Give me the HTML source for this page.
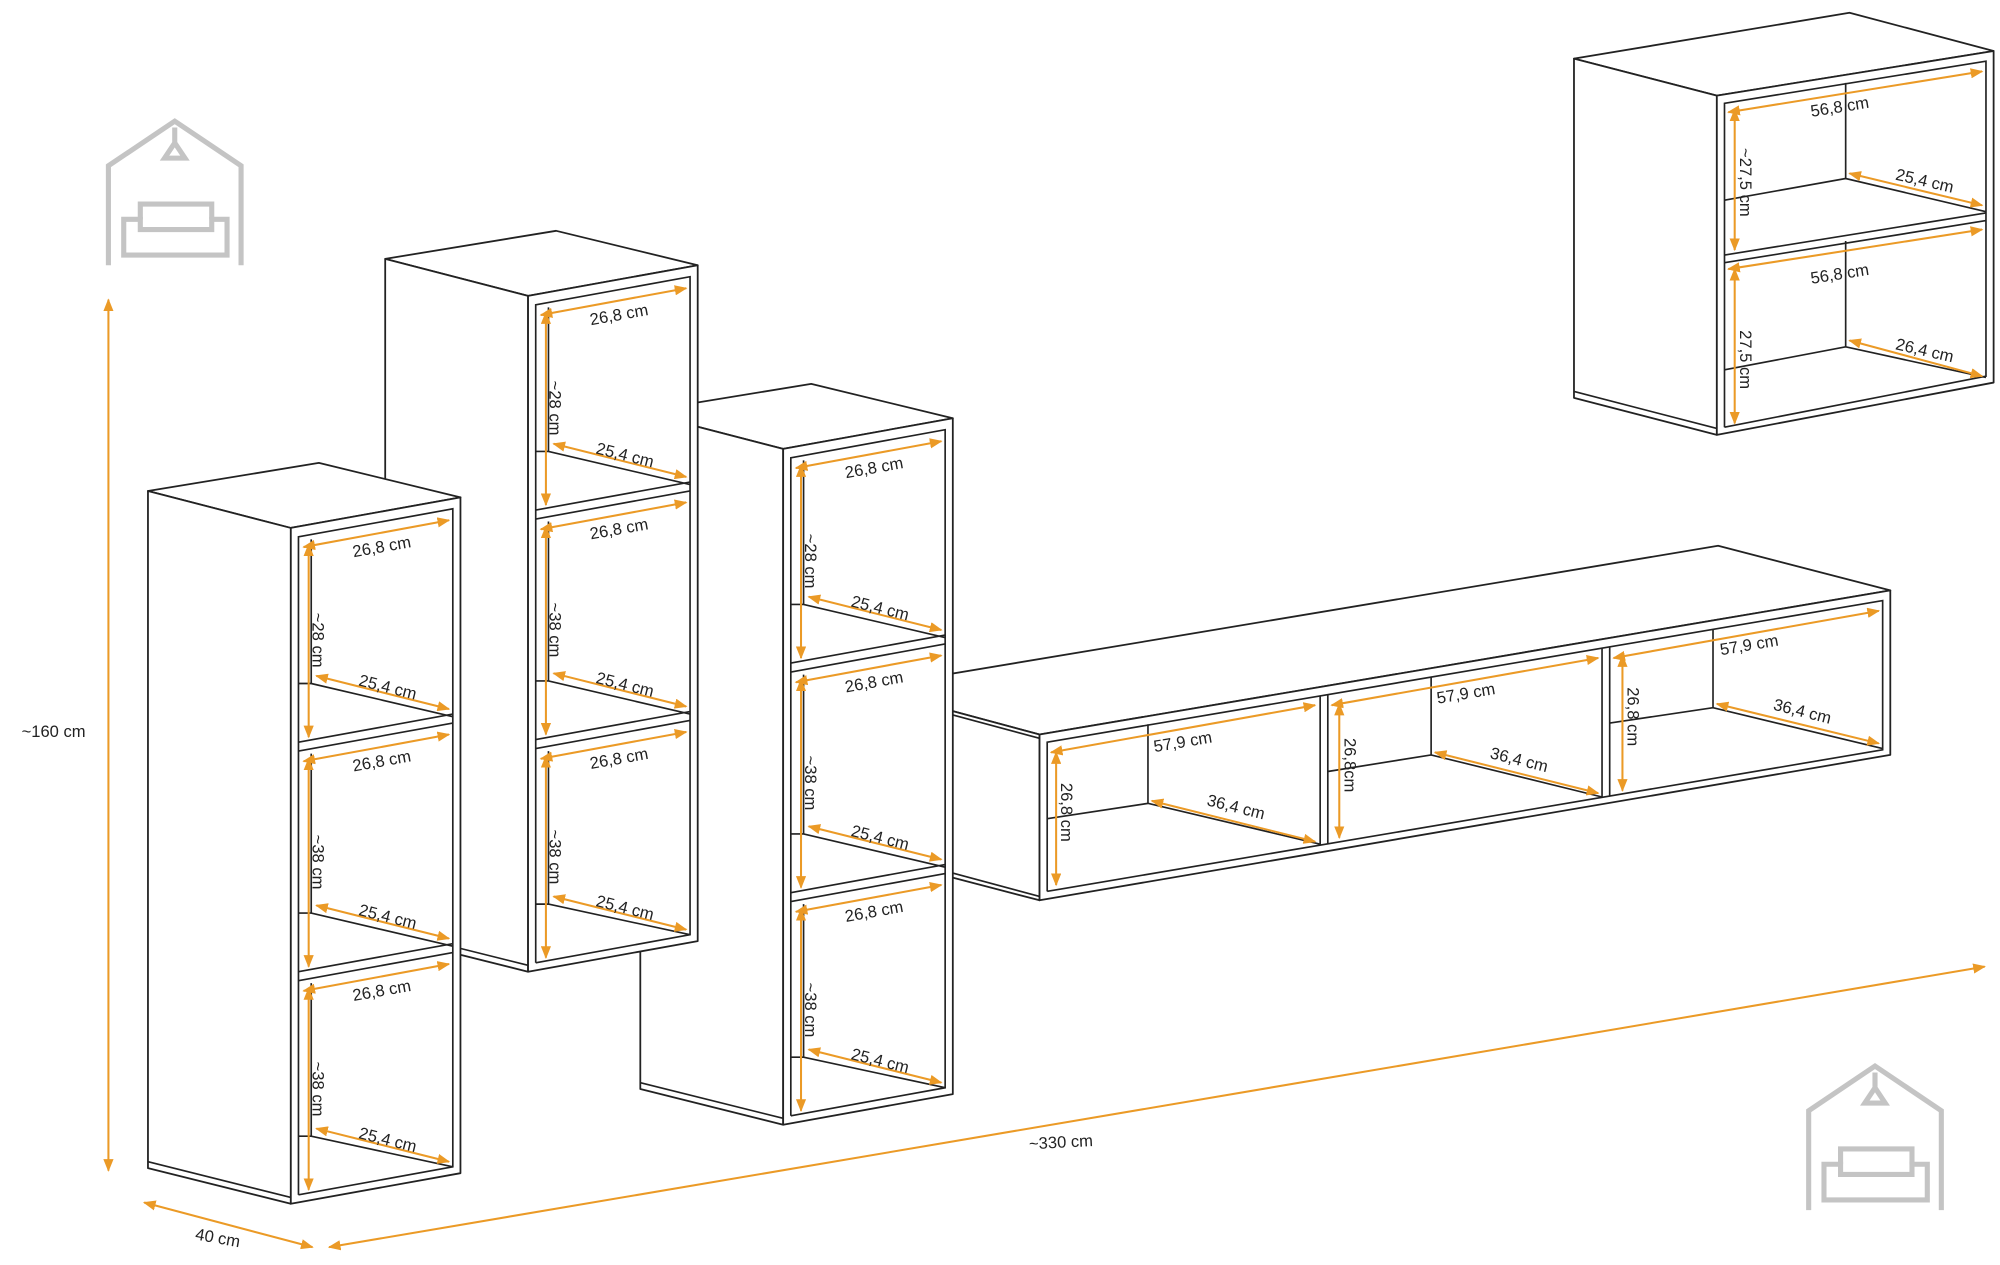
<!DOCTYPE html>
<html><head><meta charset="utf-8"><style>
html,body{margin:0;padding:0;background:#fff;}
svg{display:block;}
.w{fill:#fff;stroke:#222;stroke-width:1.4;stroke-linejoin:round}
.n{fill:#fff;stroke:none}
.l{fill:none;stroke:#222;stroke-width:1.3}
.o{fill:none;stroke:#eb9a26;stroke-width:1.6;marker-start:url(#ah);marker-end:url(#ah)}
text{font-family:"Liberation Sans",Arial,sans-serif;font-size:13px;fill:#222}
.g{fill:none;stroke:#c4c4c4;stroke-width:4;stroke-linejoin:miter}
</style></head><body>
<svg width="2000" height="1265" viewBox="0 0 1568 992" preserveAspectRatio="none" xmlns="http://www.w3.org/2000/svg">
<defs>
<marker id="ah" viewBox="0 0 10 8" refX="9" refY="4" markerWidth="10" markerHeight="8" markerUnits="userSpaceOnUse" orient="auto-start-reverse"><path d="M0,0 L10,4 L0,8 z" fill="#eb9a26"/></marker>
</defs>

<!-- logos -->
<g>
<path class="g" d="M85,208 L85,130 L137,95 L189,130 L189,208"/>
<path class="g" d="M97,200 L97,172 L110,172 L110,180 L166,180 L166,172 L178,172 L178,200 Z"/>
<path class="g" d="M110,172 L110,160 L166,160 L166,172"/>
<path class="g" d="M137,100 L137,112 M129,124 L137,112 L145,124 Z"/>
</g>
<g transform="translate(1333,741)">
<path class="g" d="M85,208 L85,130 L137,95 L189,130 L189,208"/>
<path class="g" d="M97,200 L97,172 L110,172 L110,180 L166,180 L166,172 L178,172 L178,200 Z"/>
<path class="g" d="M110,172 L110,160 L166,160 L166,172"/>
<path class="g" d="M137,100 L137,112 M129,124 L137,112 L145,124 Z"/>
</g>

<!-- wall cabinet -->
<polygon class="w" points="1234,46 1450,10 1563,40 1346,75"/>
<polygon class="w" points="1234,46 1346,75 1346,341 1234,312"/>
<polygon class="w" points="1346,75 1563,40 1563,300 1346,341"/>
<polyline class="l" points="1352,335 1352,81 1557,48 1557,295 1352,335"/>
<line class="l" x1="1234" y1="307" x2="1346" y2="336"/>
<line class="l" x1="1352" y1="200" x2="1557" y2="167"/>
<line class="l" x1="1352" y1="206" x2="1557" y2="173"/>
<polyline class="l" points="1447,65 1447,140"/>
<polyline class="l" points="1352,157 1447,140 1557,166"/>
<polyline class="l" points="1447,189 1447,272"/>
<polyline class="l" points="1352,290 1447,272 1557,296"/>
<line class="o" x1="1355" y1="88" x2="1554" y2="56"/>
<line class="o" x1="1360" y1="86" x2="1360" y2="196"/>
<line class="o" x1="1450" y1="136" x2="1554" y2="161"/>
<line class="o" x1="1355" y1="211" x2="1554" y2="180"/>
<line class="o" x1="1360" y1="211" x2="1360" y2="332"/>
<line class="o" x1="1450" y1="267" x2="1554" y2="295"/>
<text transform="translate(1443,88) rotate(-9)" text-anchor="middle">56,8 cm</text>
<text transform="translate(1364,143) rotate(90)" text-anchor="middle">~27,5 cm</text>
<text transform="translate(1508,146) rotate(13)" text-anchor="middle">25,4 cm</text>
<text transform="translate(1443,219) rotate(-9)" text-anchor="middle">56,8 cm</text>
<text transform="translate(1364,282) rotate(90)" text-anchor="middle">27,5 cm</text>
<text transform="translate(1508,279) rotate(13)" text-anchor="middle">26,4 cm</text>

<!-- TV unit -->
<polygon class="w" points="700,536 1347,428 1482,463 815,576 700,545"/>
<polygon class="w" points="700,545 815,576 815,706 700,676"/>
<line class="l" x1="700" y1="548" x2="815" y2="579"/>
<polygon class="w" points="815,576 1482,463 1482,592 815,706"/>
<line class="l" x1="700" y1="672" x2="815" y2="703"/>
<polyline class="l" points="821,699 821,582 1476,471 1476,588 821,699"/>
<line class="l" x1="1035" y1="546" x2="1035" y2="663"/>
<line class="l" x1="1041" y1="545" x2="1041" y2="662"/>
<line class="l" x1="1256" y1="508" x2="1256" y2="625"/>
<line class="l" x1="1262" y1="507" x2="1262" y2="624"/>
<polyline class="l" points="900,568 900,630"/>
<polyline class="l" points="821,642 900,630 1035,662"/>
<polyline class="l" points="1122,531 1122,592"/>
<polyline class="l" points="1041,605 1122,592 1256,625"/>
<polyline class="l" points="1343,494 1343,555"/>
<polyline class="l" points="1262,567 1343,555 1476,587"/>
<line class="o" x1="824" y1="590" x2="1031" y2="553"/>
<line class="o" x1="828" y1="590" x2="828" y2="694"/>
<line class="o" x1="903" y1="628" x2="1031" y2="660"/>
<line class="o" x1="1044" y1="553" x2="1253" y2="516"/>
<line class="o" x1="1050" y1="552" x2="1050" y2="657"/>
<line class="o" x1="1125" y1="590" x2="1253" y2="622"/>
<line class="o" x1="1265" y1="516" x2="1473" y2="479"/>
<line class="o" x1="1272" y1="514" x2="1272" y2="620"/>
<line class="o" x1="1346" y1="552" x2="1473" y2="583"/>
<text transform="translate(928,586) rotate(-9.6)" text-anchor="middle">57,9 cm</text>
<text transform="translate(832,637) rotate(90)" text-anchor="middle">26,8 cm</text>
<text transform="translate(968,637) rotate(14)" text-anchor="middle">36,4 cm</text>
<text transform="translate(1150,548) rotate(-9.6)" text-anchor="middle">57,9 cm</text>
<text transform="translate(1054,600) rotate(90)" text-anchor="middle">26,8cm</text>
<text transform="translate(1190,600) rotate(14)" text-anchor="middle">36,4 cm</text>
<text transform="translate(1372,510) rotate(-9.6)" text-anchor="middle">57,9 cm</text>
<text transform="translate(1276,562) rotate(90)" text-anchor="middle">26,8 cm</text>
<text transform="translate(1412,562) rotate(14)" text-anchor="middle">36,4 cm</text>

<!-- tall cabinets: 3, 2, 1 -->
<g transform="translate(386,-62)">
<polygon class="w" points="116,385 250,363 361,390 228,414"/>
<polygon class="w" points="116,385 228,414 228,944 116,916"/>
<polygon class="w" points="228,414 361,390 361,920 228,944"/>
<line class="l" x1="116" y1="911" x2="228" y2="939"/>
<polyline class="l" points="234,937 234,421 355,399 355,915 234,937"/>
<line class="l" x1="234" y1="582" x2="355" y2="560"/><line class="l" x1="234" y1="589" x2="355" y2="567"/>
<line class="l" x1="234" y1="762" x2="355" y2="740"/><line class="l" x1="234" y1="769" x2="355" y2="747"/>
<polyline class="l" points="244,423 244,536"/><polyline class="l" points="234,536 244,536 355,562"/>
<polyline class="l" points="244,591 244,716"/><polyline class="l" points="234,716 244,716 355,742"/>
<polyline class="l" points="244,771 244,891"/><polyline class="l" points="234,891 244,891 355,915"/>
<line class="o" x1="238" y1="429" x2="352" y2="408"/><line class="o" x1="242" y1="427" x2="242" y2="578"/><line class="o" x1="248" y1="530" x2="352" y2="556"/>
<line class="o" x1="238" y1="597" x2="352" y2="576"/><line class="o" x1="242" y1="595" x2="242" y2="758"/><line class="o" x1="248" y1="710" x2="352" y2="736"/>
<line class="o" x1="238" y1="777" x2="352" y2="756"/><line class="o" x1="242" y1="775" x2="242" y2="933"/><line class="o" x1="248" y1="885" x2="352" y2="911"/>
<text transform="translate(300,433) rotate(-10)" text-anchor="middle">26,8 cm</text>
<text transform="translate(245,502) rotate(90)" text-anchor="middle">~28 cm</text>
<text transform="translate(303,543) rotate(14)" text-anchor="middle">25,4 cm</text>
<text transform="translate(300,601) rotate(-10)" text-anchor="middle">26,8 cm</text>
<text transform="translate(245,676) rotate(90)" text-anchor="middle">~38 cm</text>
<text transform="translate(303,723) rotate(14)" text-anchor="middle">25,4 cm</text>
<text transform="translate(300,781) rotate(-10)" text-anchor="middle">26,8 cm</text>
<text transform="translate(245,854) rotate(90)" text-anchor="middle">~38 cm</text>
<text transform="translate(303,898) rotate(14)" text-anchor="middle">25,4 cm</text>
</g>

<g transform="translate(186,-182)">
<polygon class="w" points="116,385 250,363 361,390 228,414"/>
<polygon class="w" points="116,385 228,414 228,944 116,916"/>
<polygon class="w" points="228,414 361,390 361,920 228,944"/>
<line class="l" x1="116" y1="911" x2="228" y2="939"/>
<polyline class="l" points="234,937 234,421 355,399 355,915 234,937"/>
<line class="l" x1="234" y1="582" x2="355" y2="560"/><line class="l" x1="234" y1="589" x2="355" y2="567"/>
<line class="l" x1="234" y1="762" x2="355" y2="740"/><line class="l" x1="234" y1="769" x2="355" y2="747"/>
<polyline class="l" points="244,423 244,536"/><polyline class="l" points="234,536 244,536 355,562"/>
<polyline class="l" points="244,591 244,716"/><polyline class="l" points="234,716 244,716 355,742"/>
<polyline class="l" points="244,771 244,891"/><polyline class="l" points="234,891 244,891 355,915"/>
<line class="o" x1="238" y1="429" x2="352" y2="408"/><line class="o" x1="242" y1="427" x2="242" y2="578"/><line class="o" x1="248" y1="530" x2="352" y2="556"/>
<line class="o" x1="238" y1="597" x2="352" y2="576"/><line class="o" x1="242" y1="595" x2="242" y2="758"/><line class="o" x1="248" y1="710" x2="352" y2="736"/>
<line class="o" x1="238" y1="777" x2="352" y2="756"/><line class="o" x1="242" y1="775" x2="242" y2="933"/><line class="o" x1="248" y1="885" x2="352" y2="911"/>
<text transform="translate(300,433) rotate(-10)" text-anchor="middle">26,8 cm</text>
<text transform="translate(245,502) rotate(90)" text-anchor="middle">~28 cm</text>
<text transform="translate(303,543) rotate(14)" text-anchor="middle">25,4 cm</text>
<text transform="translate(300,601) rotate(-10)" text-anchor="middle">26,8 cm</text>
<text transform="translate(245,676) rotate(90)" text-anchor="middle">~38 cm</text>
<text transform="translate(303,723) rotate(14)" text-anchor="middle">25,4 cm</text>
<text transform="translate(300,781) rotate(-10)" text-anchor="middle">26,8 cm</text>
<text transform="translate(245,854) rotate(90)" text-anchor="middle">~38 cm</text>
<text transform="translate(303,898) rotate(14)" text-anchor="middle">25,4 cm</text>
</g>

<g>
<polygon class="w" points="116,385 250,363 361,390 228,414"/>
<polygon class="w" points="116,385 228,414 228,944 116,916"/>
<polygon class="w" points="228,414 361,390 361,920 228,944"/>
<line class="l" x1="116" y1="911" x2="228" y2="939"/>
<polyline class="l" points="234,937 234,421 355,399 355,915 234,937"/>
<line class="l" x1="234" y1="582" x2="355" y2="560"/><line class="l" x1="234" y1="589" x2="355" y2="567"/>
<line class="l" x1="234" y1="762" x2="355" y2="740"/><line class="l" x1="234" y1="769" x2="355" y2="747"/>
<polyline class="l" points="244,423 244,536"/><polyline class="l" points="234,536 244,536 355,562"/>
<polyline class="l" points="244,591 244,716"/><polyline class="l" points="234,716 244,716 355,742"/>
<polyline class="l" points="244,771 244,891"/><polyline class="l" points="234,891 244,891 355,915"/>
<line class="o" x1="238" y1="429" x2="352" y2="408"/><line class="o" x1="242" y1="427" x2="242" y2="578"/><line class="o" x1="248" y1="530" x2="352" y2="556"/>
<line class="o" x1="238" y1="597" x2="352" y2="576"/><line class="o" x1="242" y1="595" x2="242" y2="758"/><line class="o" x1="248" y1="710" x2="352" y2="736"/>
<line class="o" x1="238" y1="777" x2="352" y2="756"/><line class="o" x1="242" y1="775" x2="242" y2="933"/><line class="o" x1="248" y1="885" x2="352" y2="911"/>
<text transform="translate(300,433) rotate(-10)" text-anchor="middle">26,8 cm</text>
<text transform="translate(245,502) rotate(90)" text-anchor="middle">~28 cm</text>
<text transform="translate(303,543) rotate(14)" text-anchor="middle">25,4 cm</text>
<text transform="translate(300,601) rotate(-10)" text-anchor="middle">26,8 cm</text>
<text transform="translate(245,676) rotate(90)" text-anchor="middle">~38 cm</text>
<text transform="translate(303,723) rotate(14)" text-anchor="middle">25,4 cm</text>
<text transform="translate(300,781) rotate(-10)" text-anchor="middle">26,8 cm</text>
<text transform="translate(245,854) rotate(90)" text-anchor="middle">~38 cm</text>
<text transform="translate(303,898) rotate(14)" text-anchor="middle">25,4 cm</text>
</g>

<!-- overall dimensions -->
<line class="o" x1="85" y1="235" x2="85" y2="918"/>
<text x="42" y="578" text-anchor="middle">~160 cm</text>
<line class="o" x1="113" y1="943" x2="245" y2="978"/>
<text transform="translate(170,975) rotate(10)" text-anchor="middle">40 cm</text>
<line class="o" x1="258" y1="978" x2="1556" y2="758"/>
<text transform="translate(832,900) rotate(-3)" text-anchor="middle">~330 cm</text>
</svg>
</body></html>
